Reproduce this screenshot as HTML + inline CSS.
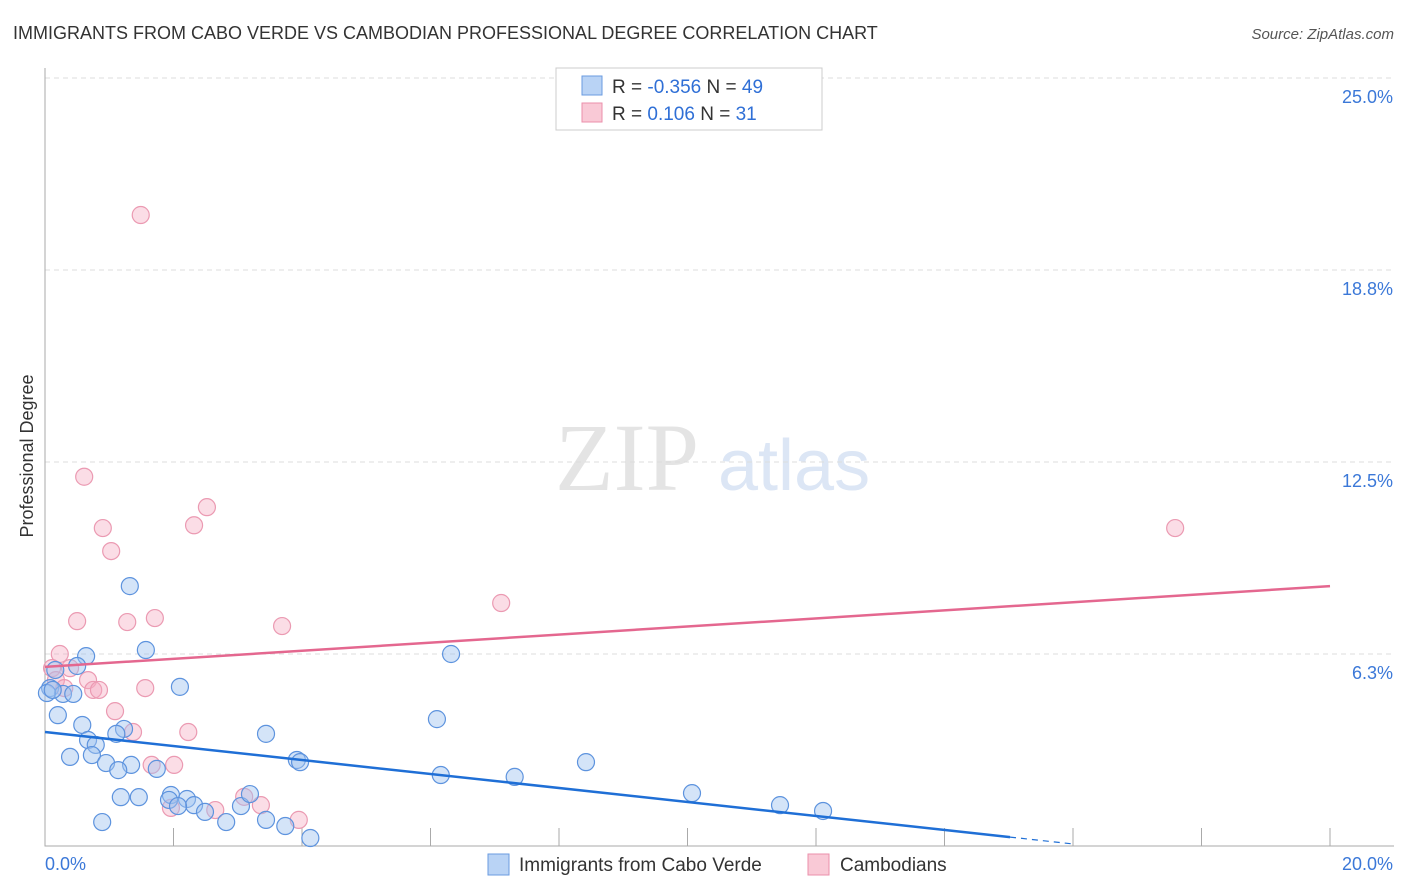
<!DOCTYPE html>
<html><head><meta charset="utf-8"><style>
body{margin:0;background:#fff;font-family:"Liberation Sans",sans-serif;}
</style></head><body>
<svg width="1406" height="892" xmlns="http://www.w3.org/2000/svg" style="display:block">
<text x="13" y="39" font-size="18" fill="#333">IMMIGRANTS FROM CABO VERDE VS CAMBODIAN PROFESSIONAL DEGREE CORRELATION CHART</text>
<text x="1394" y="39" font-size="15" fill="#555" text-anchor="end" font-style="italic">Source: ZipAtlas.com</text>
<text x="555" y="490" font-size="96" fill="#e4e4e4" font-family="Liberation Serif,serif">ZIP</text>
<text x="718" y="490" font-size="72" fill="#dce6f5">atlas</text>
<g id="grid"></g>
<g id="axes"></g>
<g id="marks"></g>
<text transform="translate(33,456) rotate(-90)" font-size="18" fill="#333" text-anchor="middle">Professional Degree</text>
<g>
<rect x="556" y="68" width="266" height="62" fill="#fff" stroke="#ccc"/>
<rect x="582" y="76" width="20" height="19" fill="#b9d3f5" stroke="#6a9be0"/>
<rect x="582" y="103" width="20" height="19" fill="#f9c9d6" stroke="#eb8fab"/>
<text x="612" y="93" font-size="19" fill="#333">R = <tspan fill="#2f6fd6">-0.356</tspan>   N = <tspan fill="#2f6fd6">49</tspan></text>
<text x="612" y="120" font-size="19" fill="#333">R =   <tspan fill="#2f6fd6">0.106</tspan>   N =  <tspan fill="#2f6fd6">31</tspan></text>
</g>
<g>
<rect x="488" y="854" width="21" height="21" fill="#b9d3f5" stroke="#6a9be0"/>
<text x="519" y="871" font-size="19" fill="#333">Immigrants from Cabo Verde</text>
<rect x="808" y="854" width="21" height="21" fill="#f9c9d6" stroke="#eb8fab"/>
<text x="840" y="871" font-size="19" fill="#333">Cambodians</text>
</g>
</svg>
<script>
const yTicks=[25,18.75,12.5,6.25];
const yTickLabels=["25.0%","18.8%","12.5%","6.3%"];
const xTicks=[0,2,4,6,8,10,12,14,16,18,20];
const blueX=[1.32,1.57,0.64,0.5,0.16,0.08,0.28,0.44,0.2,2.1,6.32,6.1,0.58,1.23,1.11,0.67,0.79,0.39,0.73,0.95,1.34,1.74,1.14,3.44,3.92,3.97,6.16,7.31,8.42,10.07,11.44,12.11,1.18,1.46,1.96,1.93,2.21,2.32,2.07,2.49,3.05,3.19,2.82,3.44,3.74,4.13,0.89,0.03,0.12];
const blueY=[8.46,6.38,6.18,5.86,5.73,5.14,4.95,4.95,4.26,5.18,6.25,4.13,3.94,3.81,3.65,3.45,3.29,2.9,2.96,2.7,2.64,2.51,2.47,3.65,2.8,2.73,2.31,2.25,2.73,1.72,1.33,1.14,1.59,1.59,1.66,1.5,1.53,1.33,1.3,1.11,1.3,1.69,0.78,0.85,0.65,0.26,0.78,4.98,5.08];
const pinkX=[1.49,0.61,2.52,2.32,0.9,1.03,17.59,7.1,0.5,1.28,1.71,3.69,0.23,0.11,0.17,0.39,0.67,0.75,0.84,1.56,1.09,1.37,2.23,1.66,2.01,3.1,3.36,2.65,1.96,3.95,0.3];
const pinkY=[20.54,12.02,11.03,10.44,10.35,9.6,10.35,7.91,7.32,7.29,7.42,7.16,6.25,5.79,5.4,5.79,5.4,5.08,5.08,5.14,4.39,3.71,3.71,2.64,2.64,1.6,1.33,1.17,1.24,0.85,5.14];
const blueTrend=[3.71,0.29,15.02];
const pinkTrend=[5.83,8.46];
const sx=v=>45+v*64.25, sy=v=>846-v*30.72;
const NS="http://www.w3.org/2000/svg";
function mk(parent,tag,attrs){const e=document.createElementNS(NS,tag);for(const k in attrs)e.setAttribute(k,attrs[k]);document.getElementById(parent).appendChild(e);return e;}
yTicks.forEach((t,i)=>{
 const l=mk('grid','line',{x1:45,x2:1394,y1:sy(t),y2:sy(t),stroke:'#ddd','stroke-dasharray':'5,4'});
 
 
 const tx=mk('grid','text',{x:1393,y:sy(t)+25,'font-size':18,fill:'#3b78d8','text-anchor':'end'});
 tx.textContent=yTickLabels[i];
 
 
});
const ax=mk('axes','path',{d:'M45,68V846H1394',stroke:'#aaa',fill:'none'});


xTicks.slice(1).forEach(t=>{
 const l=mk('axes','line',{x1:sx(t),x2:sx(t),y1:828,y2:846,stroke:'#aaa'});
 
 
});
const x0=mk('axes','text',{x:45,y:870,'font-size':18,fill:'#3b78d8'});x0.textContent='0.0%';


const x1=mk('axes','text',{x:1393,y:870,'font-size':18,fill:'#3b78d8','text-anchor':'end'});x1.textContent='20.0%';


pinkX.forEach((x,i)=>{const c=mk('marks','circle',{cx:sx(x),cy:sy(pinkY[i]),r:8.5,fill:'rgba(245,170,192,0.4)',stroke:'#eb9ab2','stroke-width':1.2});
 
 });
blueX.forEach((x,i)=>{const c=mk('marks','circle',{cx:sx(x),cy:sy(blueY[i]),r:8.5,fill:'rgba(160,195,240,0.45)',stroke:'#5d93de','stroke-width':1.2});
 
 });
const slope=(blueTrend[1]-blueTrend[0])/blueTrend[2];
const bt=mk('marks','line',{x1:sx(0),y1:sy(blueTrend[0]),x2:sx(blueTrend[2]),y2:sy(blueTrend[1]),stroke:'#1f6fd6','stroke-width':2.5});


const bd=mk('marks','line',{x1:sx(blueTrend[2]),y1:sy(blueTrend[1]),x2:sx(blueTrend[2]+0.95),y2:sy(blueTrend[1]+slope*0.95),stroke:'#1f6fd6','stroke-width':1.2,'stroke-dasharray':'6,5'});


const pt=mk('marks','line',{x1:sx(0),y1:sy(pinkTrend[0]),x2:sx(20),y2:sy(pinkTrend[1]),stroke:'#e4678f','stroke-width':2.5});


</script>
</body></html>
